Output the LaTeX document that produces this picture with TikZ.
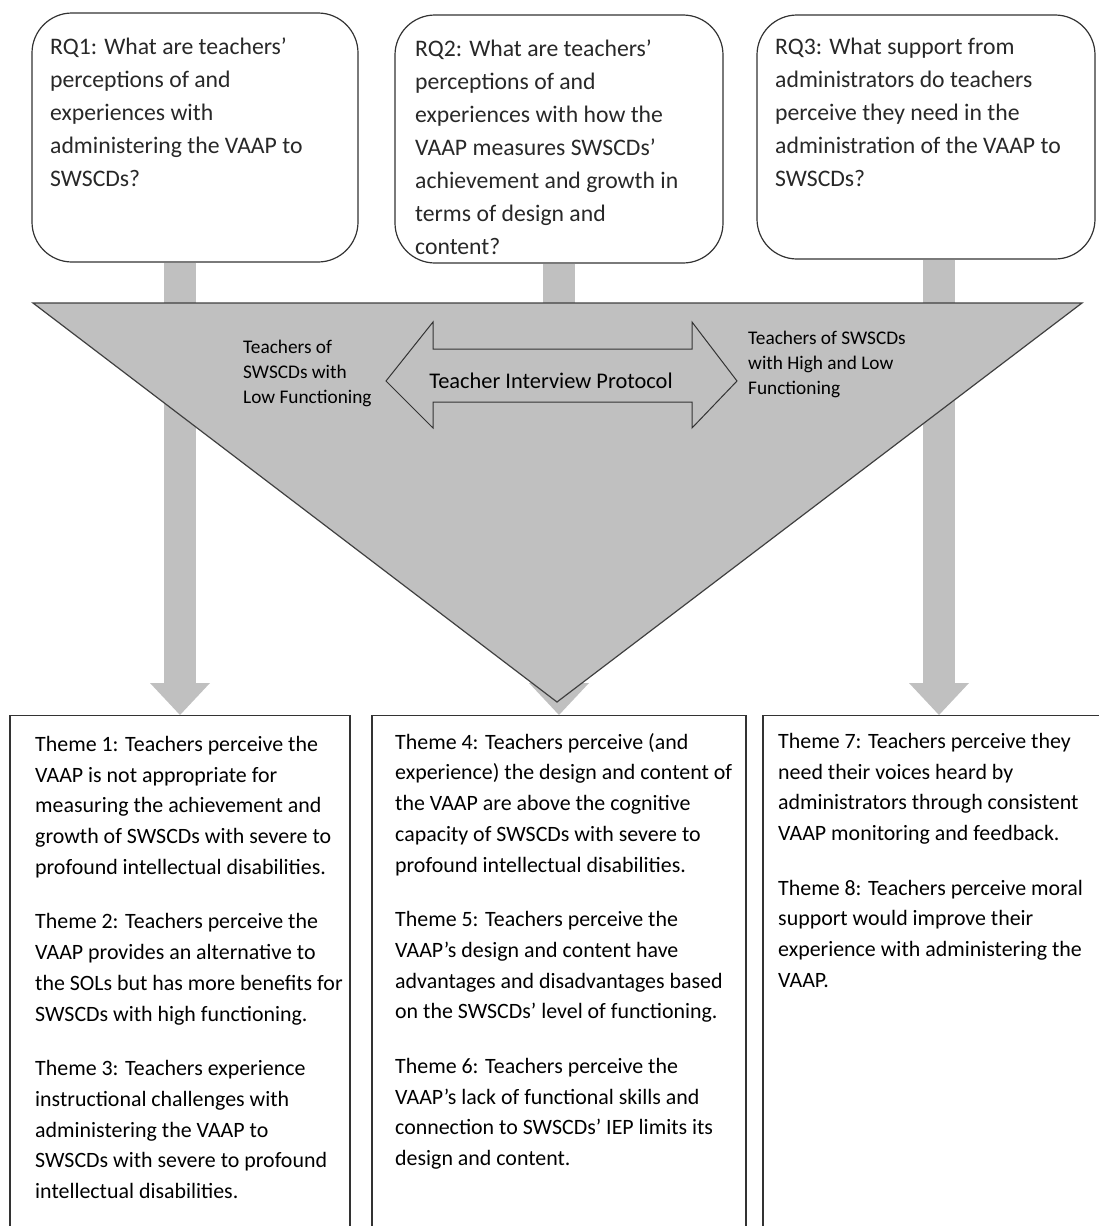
\documentclass[tikz,border=0pt]{standalone}
\usepackage{fontspec}
\setmainfont{Carlito}
\usetikzlibrary{arrows.meta}
\definecolor{boxgray}{RGB}{192,192,192}
\definecolor{inkgray}{RGB}{40,40,40}
\tikzset{
  rqbox/.style={draw=black!80, line width=1.2pt, rounded corners=40pt, fill=white, inner sep=0pt},
  rqtext/.style={anchor=north west, inner sep=0pt, align=left, text=inkgray, font=\fontsize{23.7}{33}\selectfont},
  themebox/.style={draw=black!80, line width=1.2pt, fill=white, inner sep=0pt, anchor=north},
  themetext/.style={anchor=north west, inner sep=0pt, align=left, text=black, font=\fontsize{21.9}{30.7}\selectfont},
  flow/.style={draw=boxgray, line width=32pt, -{Triangle[length=32pt, width=60pt, line width=0pt]}},
  sidetext/.style={anchor=north west, inner sep=0pt, align=left, text=black, font=\fontsize{19.3}{25}\selectfont},
}

\begin{document}
\begin{tikzpicture}[x=1pt, y=-1pt]
		%%%%% START %%%%%
		\useasboundingbox (0,0) rectangle (1099,1226);
		\clip (0,0) rectangle (1099,1226);
		
		% research questions
		\node[rqbox, minimum width=326, minimum height=249] (rq1) at (195, 137.5) {};
		\node[rqbox, minimum width=328, minimum height=248] (rq2) at (559, 139) {};
		\node[rqbox, minimum width=338, minimum height=244] (rq3) at (926, 137) {};
		
		\node[rqtext] (q1) at (50, 38) {RQ1: What are teachers’\\perceptions of and\\experiences with\\administering the VAAP to\\SWSCDs?};
		\node[rqtext] (q2) at (415, 40) {RQ2: What are teachers’\\perceptions of and\\experiences with how the\\VAAP measures SWSCDs’\\achievement and growth in\\terms of design and\\content?};
		\node[rqtext] (q3) at (775, 38) {RQ3: What support from\\administrators do teachers\\perceive they need in the\\administration of the VAAP to\\SWSCDs?};
		
		% themes
		\node[themebox, minimum width=340, minimum height=560] (th1) at (180, 715) {};
		\node[themebox, minimum width=374, minimum height=560] (th2) at (559, 715) {};
		\node[themebox, minimum width=352, minimum height=560] (th3) at (939, 715) {};
		
		\node[themetext] (t1) at (35, 736) {Theme 1: Teachers perceive the\\VAAP is not appropriate for\\measuring the achievement and\\growth of SWSCDs with severe to\\profound intellectual disabilities.\\[24pt]Theme 2: Teachers perceive the\\VAAP provides an alternative to\\the SOLs but has more benefits for\\SWSCDs with high functioning.\\[24pt]Theme 3: Teachers experience\\instructional challenges with\\administering the VAAP to\\SWSCDs with severe to profound\\intellectual disabilities.};
		\node[themetext] (t2) at (395, 733) {Theme 4: Teachers perceive (and\\experience) the design and content of\\the VAAP are above the cognitive\\capacity of SWSCDs with severe to\\profound intellectual disabilities.\\[24pt]Theme 5: Teachers perceive the\\VAAP’s design and content have\\advantages and disadvantages based\\on the SWSCDs’ level of functioning.\\[24pt]Theme 6: Teachers perceive the\\VAAP’s lack of functional skills and\\connection to SWSCDs’ IEP limits its\\design and content.};
		\node[themetext] (t3) at (778, 733) {Theme 7: Teachers perceive they\\need their voices heard by\\administrators through consistent\\VAAP monitoring and feedback.\\[24pt]Theme 8: Teachers perceive moral\\support would improve their\\experience with administering the\\VAAP.};
		
		% gray flow arrows (behind the triangle)
		\draw[flow] (th1.north |- rq1.south) -- (th1.north);
		\draw[flow] (th2.north |- rq2.south) -- (th2.north);
		\draw[flow] (th3.north |- rq3.south) -- (th3.north);
		
		% triangle
		\draw[draw=black!75, line width=1.2pt, fill=boxgray] (33, 303) -- (1082, 303) -- (557, 702) -- cycle;
		
		% interview protocol
		\draw[draw=black!80, line width=1pt, fill=boxgray] (386, 381) -- (433, 322) -- (433, 349) -- (692, 349) -- (692, 322) -- (737, 381) -- (692, 428) -- (692, 402) -- (433, 402) -- (433, 428) -- cycle;
		\node[font=\fontsize{22.4}{26}\selectfont, inner sep=0pt] (tip) at (551, 381) {Teacher Interview Protocol};
		
		\node[sidetext] (low) at (243, 340) {Teachers of\\SWSCDs with\\Low Functioning};
		\node[sidetext] (high) at (748, 331) {Teachers of SWSCDs\\with High and Low\\Functioning};
		
		%%%%% END %%%%%
\end{tikzpicture}
\end{document}
